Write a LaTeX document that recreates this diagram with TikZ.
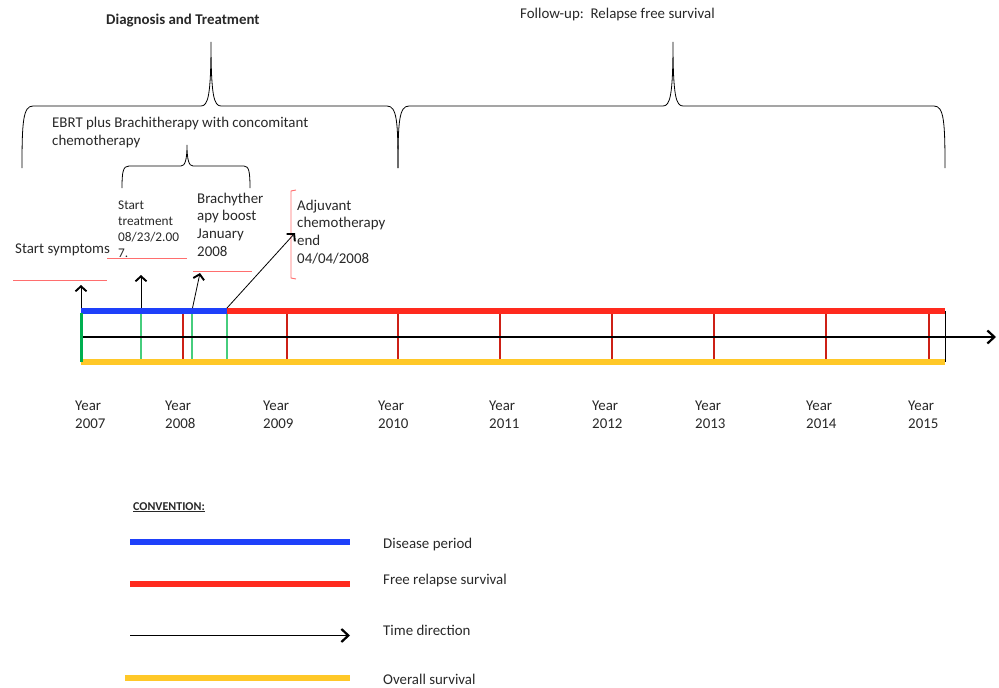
\documentclass[tikz,border=0pt]{standalone}
\usepackage{fontspec}
\setmainfont{Carlito}
\usetikzlibrary{arrows.meta}

\definecolor{disease}{RGB}{30,64,250}
\definecolor{relapse}{RGB}{255,42,30}
\definecolor{survival}{RGB}{255,200,40}
\definecolor{yeartick}{RGB}{205,32,22}
\definecolor{eventgreen}{RGB}{70,205,125}
\definecolor{startgreen}{RGB}{0,175,80}
\definecolor{underred}{RGB}{255,110,110}
\definecolor{ink}{RGB}{40,40,40}

\tikzset{
  txt/.style={inner sep=0, anchor=base west, align=left, text=ink, font=\fontsize{14.9}{17.8}\selectfont},
  smalltxt/.style={txt, font=\fontsize{13.3}{16}\selectfont},
  bar/.style={line width=6pt},
  brace/.style={line width=0.8pt},
  ev/.style={line width=0.8pt, -{Straight Barb[length=5pt,width=11pt,line width=1.9pt]}},
  timearrow/.style={line width=1.9pt, -{Straight Barb[length=7pt,width=13pt,line width=2.2pt]}}
}

\begin{document}
\begin{tikzpicture}[x=1pt,y=-1pt]
\useasboundingbox (0,0) rectangle (999,688);

% headings and braces
\node[txt, font=\fontsize{14.9}{17.8}\selectfont\bfseries] (diag) at (106,24) {Diagnosis and Treatment};
\node[txt] (follow) at (520,18) {Follow-up:\ \ Relapse free survival};
\node[txt] (ebrt) at (52,145) {EBRT plus Brachitherapy with concomitant\\chemotherapy};

\draw[brace] (22,168) .. controls (22,122) and (23,106) .. (33,106) -- (201,106)
  .. controls (208,106) and (211,96) .. (211,42)
  .. controls (211,96) and (214,106) .. (221,106) -- (387,106)
  .. controls (397,106) and (398,122) .. (398,168);
\draw[brace] (398,168) .. controls (398,122) and (399,106) .. (409,106) -- (663,106)
  .. controls (670,106) and (673,96) .. (673,42)
  .. controls (673,96) and (676,106) .. (683,106) -- (934,106)
  .. controls (944,106) and (945,122) .. (945,168);
\draw[brace] (122,188) .. controls (122,172) and (123,166) .. (129,166) -- (181,166)
  .. controls (185,166) and (187,160) .. (187,145)
  .. controls (187,160) and (189,166) .. (193,166) -- (244,166)
  .. controls (249,166) and (250,172) .. (250,188);

% events
\node[txt] (symptoms) at (15,253) {Start symptoms};
\node[smalltxt] (treat) at (118,257) {Start\\treatment\\08/23/2.00\\7.};
\node[txt] (brachy) at (197,256.5) {Brachyther\\apy boost\\January\\2008};
\node[txt] (adjuvant) at (297,263.5) {Adjuvant\\chemotherapy\\end\\04/04/2008};

\draw[underred] (13,280) -- (107,280);
\draw[underred] (107,258) -- (187,258);
\draw[underred] (193,271) -- (252,271);
\draw[underred, line width=0.9pt] (296,190) -- (291,191) -- (291,278) -- (296,279);

% timeline
\foreach \x in {183,287,398,500,612,714,826,929}
  \draw[yeartick, line width=2.5pt] (\x,313) -- (\x,360);
\foreach \x in {141,192,227}
  \draw[eventgreen, line width=1.5pt] (\x,313) -- (\x,360);
\draw[line width=0.6pt] (945,311) -- (945,362);
\draw[timearrow] (81,337) -- (996,337);
\draw[bar, disease] (81,311) -- (227,311);
\draw[bar, relapse] (227,311) -- (945,311);
\draw[bar, survival] (81,362) -- (945,362);
\draw[startgreen, line width=3pt] (81,313) -- (81,362);

\coordinate (onSym) at (81,308);
\coordinate (onTreat) at (141,308);
\coordinate (onBrachy) at (192.5,308);
\coordinate (onAdj) at (227,308);
\coordinate (tipSym) at (81,285);
\coordinate (tipTreat) at (141,275);
\coordinate (tipBrachy) at (200,273);
\coordinate (tipAdj) at (295,233);
\draw[ev] (onSym) -- (tipSym);
\draw[ev] (onTreat) -- (tipTreat);
\draw[ev] (onBrachy) -- (tipBrachy);
\draw[ev] (onAdj) -- (tipAdj);

\foreach \x/\yr in {75/2007,165/2008,263/2009,378/2010,489/2011,592/2012,695/2013,806/2014,908/2015}
  \node[txt] (year\yr) at (\x,428) {Year\\\yr};

% legend
\node[txt, font=\fontsize{12}{14}\selectfont\bfseries] (conv) at (133,510) {\underline{CONVENTION:}};
\draw[bar, disease] (130,541.5) -- (350,541.5);
\draw[bar, relapse] (130,584) -- (350,584);
\draw[timearrow] (130,635.5) -- (350,635.5);
\draw[bar, survival] (125,678) -- (350,678);
\node[txt] (legDisease) at (383,548) {Disease period};
\node[txt] (legRelapse) at (383,584) {Free relapse survival};
\node[txt] (legTime) at (383,635) {Time direction};
\node[txt] (legSurvival) at (383,684) {Overall survival};
\end{tikzpicture}
\end{document}
